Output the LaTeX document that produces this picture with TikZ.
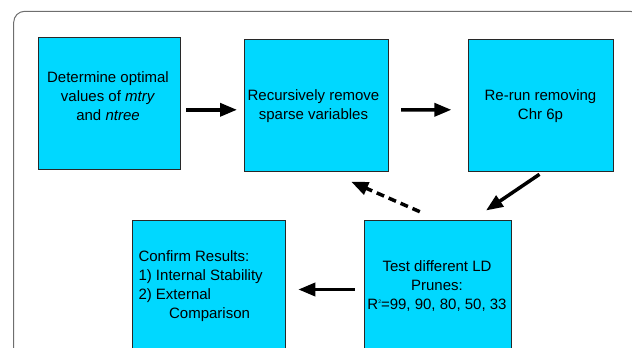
\documentclass[tikz,border=0pt]{standalone}
\usepackage{fontspec}
\setmainfont{Liberation Sans}
\usetikzlibrary{arrows.meta,calc}
\definecolor{boxfill}{RGB}{0,216,255}
\definecolor{framec}{RGB}{110,110,110}
\definecolor{boxline}{RGB}{40,40,40}
\tikzset{
  stepbox/.style={draw=boxline, fill=boxfill, line width=1pt, inner sep=0pt, anchor=north west},
  label text/.style={inner sep=0pt, align=center, font=\fontsize{15}{19}\selectfont},
  arr/.style={line width=3.5pt, -{Triangle[length=17pt,width=13pt]}},
  darr/.style={arr, dash pattern=on 8pt off 5pt}
}
\begin{document}
\begin{tikzpicture}[x=1pt,y=1pt]
\useasboundingbox (0,0) rectangle (632,348);
\clip (0,0) rectangle (632,348);
\draw[framec, line width=1pt, rounded corners=11pt] (13.7,336.7) rectangle (641,-20);
% boxes
\node[stepbox, minimum width=141.5pt, minimum height=131.7pt] (b1) at (38.3,310.7) {};
\node[stepbox, minimum width=144.7pt, minimum height=131.7pt] (b2) at (243.5,309) {};
\node[stepbox, minimum width=144.7pt, minimum height=132pt] (b3) at (468,309) {};
\node[stepbox, minimum width=146.7pt, minimum height=137.7pt] (b4) at (364,127.7) {};
\node[stepbox, minimum width=152.4pt, minimum height=138.3pt] (b5) at (132.2,128.3) {};
% texts
\node[label text] (t1) at (108,252.3) {Determine optimal\\values of \textit{mtry}\\and \textit{ntree}};
\node[label text] (t2) at (313.5,241.8) {Recursively remove\\sparse variables};
\node[label text] (t3) at (540.5,241.8) {Re-run removing\\Chr 6p};
\node[label text] (t4) at (437,61.5) {Test different LD\\Prunes:\\R\raisebox{6pt}{\fontsize{5}{5}\selectfont 2}=99, 90, 80, 50, 33};
\node[label text, align=left, anchor=west] (t5) at (138.3,61.5) {Confirm Results:\\1) Internal Stability\\2) External\\\hspace*{30.6pt}Comparison};
% arrows
\draw[arr] ($(b1.east)+(5.2,-6.15)$) -- ($(b2.west)+(-6.5,-4.45)$);
\draw[arr] ($(b2.east)+(11.8,-4.45)$) -- ($(b3.west)+(-16.6,-4.3)$);
\draw[arr] ($(b3.south)+(-1.35,-2.3)$) -- ($(b4.north)+(48.15,9.8)$);
\draw[darr] ($(b4.north)+(-18.05,8.6)$) -- ($(b2.south)+(34.85,-10)$);
\draw[arr] ($(b4.west)+(-9.5,0.15)$) -- ($(b5.east)+(12.7,-0.15)$);
\end{tikzpicture}
\end{document}
